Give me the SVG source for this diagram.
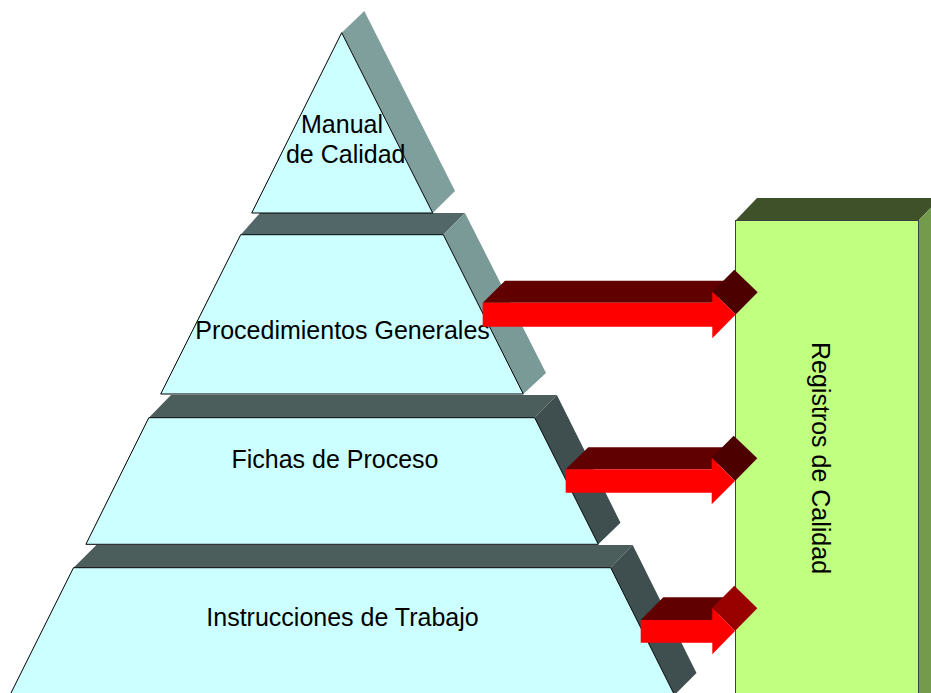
<svg xmlns="http://www.w3.org/2000/svg" width="931" height="693" viewBox="0 0 931 693">
<style>
.front{fill:#CCFFFF;stroke:#000000;stroke-width:1;stroke-linejoin:round}
.topA{fill:#526767}
.topB{fill:#4B5E5C}
.sideA{fill:#7A9A98}
.sideB{fill:#3F4F4F}
.lbl{font-family:"Liberation Sans",Arial,sans-serif;font-size:25px;fill:#000000;text-anchor:middle}
.arrFront{fill:#FF0000}
.arrTop{fill:#600000}
.arrHead{fill:#4C0000}
.arrHead3{fill:#990000}
</style>
<rect x="0" y="0" width="931" height="693" fill="#FFFFFF"/>

<g id="registros">
  <polygon points="735.5,220.5 757,198 940,198 918.5,220.5" fill="#3F5129"/>
  <polygon points="918.5,220.5 940,198 940,700 918.5,700" fill="#739B4B"/>
  <rect x="735.5" y="220.5" width="183" height="480" fill="#C0FF80" stroke="#404040" stroke-width="1"/>
  <text class="lbl" transform="translate(812,458) rotate(90)">Registros de Calidad</text>
</g>

<g id="instrucciones">
  <polygon class="topB" points="73.5,567.7 96.4,545 632.7,545 610.7,567.7"/>
  <polygon class="sideB" points="610.7,567.7 632.7,545 696.5,673 674.5,695"/>
  <polygon class="front" points="73.5,567.7 610.7,567.7 674.5,695 10,695"/>
  <text class="lbl" x="342.5" y="626">Instrucciones de Trabajo</text>
</g>

<g id="fichas">
  <polygon class="topB" points="148.8,417.7 171,395 556.9,395 534.7,417.7"/>
  <polygon class="sideB" points="534.7,417.7 556.9,395 620.5,522.7 598.3,544.3"/>
  <polygon class="front" points="148.8,417.7 534.7,417.7 598.3,544.3 85.9,544.3"/>
  <text class="lbl" x="335" y="468.3">Fichas de Proceso</text>
</g>

<g id="procedimientos">
  <polygon class="topA" points="240.7,234.7 260,213 465,213 443.3,234.7"/>
  <polygon class="sideA" points="443.3,234.7 465,213 546,373 523.3,394"/>
  <polygon class="front" points="240.7,234.7 443.3,234.7 523.3,394 160.7,394"/>
  <text class="lbl" x="342.5" y="339.3">Procedimientos Generales</text>
</g>

<g id="manual">
  <polygon points="341.7,32.7 364.3,11 455,191 432.7,213" fill="#7F9F9D"/>
  <polygon class="front" points="341.7,32.7 432.7,213 251.7,213"/>
  <text class="lbl" x="342" y="132.7">Manual</text>
  <text class="lbl" x="345.7" y="163.3">de Calidad</text>
</g>

<g id="connectors">
  <g id="arrow1">
    <polygon class="arrTop" points="482.7,302.7 505,280.7 734.3,280.7 712.3,302.7"/>
    <polygon class="arrHead" points="712.3,291.7 734.3,269.7 757.7,292.3 735.7,314.5"/>
    <polygon class="arrFront" points="482.7,302.7 712.3,302.7 712.3,291.7 735.7,314.5 712.3,338.3 712.3,326.7 482.7,326.7"/>
  </g>
  <g id="arrow2">
    <polygon class="arrTop" points="565.7,469.3 588.3,447.3 733.7,447.3 711.7,469.3"/>
    <polygon class="arrHead" points="711.7,457.7 733.7,435.7 757.3,458.3 735,481"/>
    <polygon class="arrFront" points="565.7,469.3 711.7,469.3 711.7,457.7 735,481 711.7,504.3 711.7,492.7 565.7,492.7"/>
  </g>
  <g id="arrow3">
    <polygon class="arrTop" points="640.7,620 663.3,597.3 734.3,597.3 712.3,620"/>
    <polygon class="arrHead3" points="712.3,607.7 734.3,585.7 757.3,608.3 735,631"/>
    <polygon class="arrFront" points="640.7,620 712.3,620 712.3,607.7 735,631 712.3,654.3 712.3,642.7 640.7,642.7"/>
  </g>
</g>
</svg>
